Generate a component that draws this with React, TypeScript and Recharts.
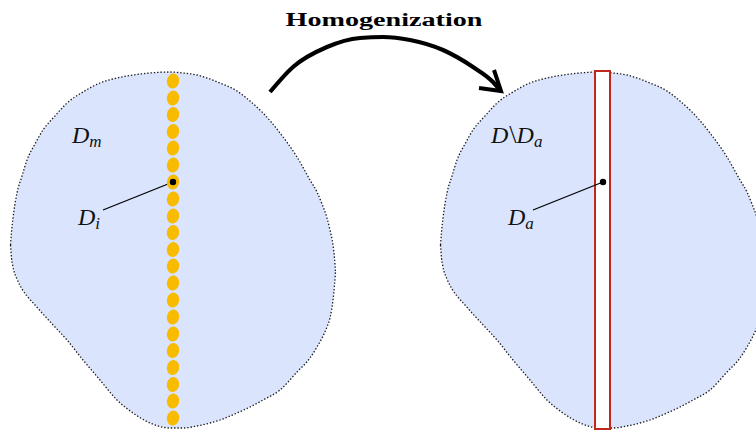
import React from 'react';
import { ComposedChart, XAxis, YAxis, Area, Line, Scatter, ReferenceArea } from 'recharts';

// Domain outline (pixel-like units, y grows downward)
const outlineX = [10.5, 11.5, 13, 17, 22, 27, 35, 43, 55, 67, 83, 100, 117, 133, 150, 170, 183, 197, 210, 220, 237, 250, 263, 280, 297, 310, 317, 322, 327, 330, 333, 334.5, 335.5];
const outlineTop = [245, 232, 218, 193, 176, 160, 144, 130, 116, 103, 92, 83, 78, 75, 73, 72, 73, 75, 79, 83, 91, 101, 113, 133, 157, 180, 192, 204, 218, 230, 245, 258, 272];
const outlineBottom = [245, 258, 267, 279, 289, 296, 305, 314, 327, 340, 360, 380, 400, 413, 423, 428, 428, 426, 423, 420, 413, 407, 400, 390, 372, 358, 347, 338, 327, 318, 300, 285, 272];

// inclusions along the vertical line (left domain)
const inclusionY = [81, 98, 114.5, 131.5, 148, 165, 182, 199, 216, 232.5, 249.5, 266, 283, 300, 317, 334, 350.5, 367.5, 384.5, 401, 418];
const inclusionX = 173;

// homogenized strip (right domain)
const stripX = [595, 610];
const stripY = [71, 429];

// the right picture is the same domain moved to the right
const rightShift = 430;

const markerDots = [
  { x: 173, y: 182 },
  { x: 603, y: 182 },
];
const leaderLeft = [
  { x: 173, y: 182 },
  { x: 103, y: 210 },
];
const leaderRight = [
  { x: 603, y: 182 },
  { x: 533, y: 210 },
];

const arrowBody = [
  { x: 270, y: 92 },
  { x: 293, y: 67 },
  { x: 327, y: 47 },
  { x: 360, y: 38 },
  { x: 383, y: 37 },
  { x: 410, y: 40 },
  { x: 443, y: 50 },
  { x: 473, y: 67 },
  { x: 493, y: 82 },
  { x: 500, y: 90 },
];
const arrowHead = [
  { x: 494, y: 70 },
  { x: 501, y: 91 },
  { x: 479, y: 88 },
];

const mathLabels = [
  { x: 72, y: 143, text: 'D', sub: 'm' },
  { x: 78, y: 225, text: 'D', sub: 'i' },
  { x: 491, y: 143, text: 'D\\D', sub: 'a' },
  { x: 508, y: 225, text: 'D', sub: 'a' },
];
const titles = [{ x: 384, y: 26, text: 'Homogenization', width: 197 }];

const outline = outlineX.map((x, i) => ({ x, top: outlineTop[i], bottom: outlineBottom[i] }));
const inclusions = inclusionY.map((y) => ({ x: inclusionX, y }));

const FILL = '#dae4fd';
const serif = '"Liberation Serif", "DejaVu Serif", serif';

const Bean = (props: any) => {
  const { cx, cy } = props;
  return <ellipse cx={cx} cy={cy} rx={6.2} ry={7.5} fill="#f9bb00" transform={`rotate(8 ${cx} ${cy})`} />;
};

const MathLabel = (props: any) => {
  const { cx, cy, payload } = props;
  const parts = String(payload.text).split('\\');
  return (
    <text x={cx} y={cy} fontFamily={serif} fontSize={24} fill="#111">
      {parts.map((p: string, i: number) => (
        <React.Fragment key={i}>
          {i > 0 && <tspan fontStyle="normal" fontSize={26} dx={1}>\</tspan>}
          <tspan fontStyle="italic">{p}</tspan>
        </React.Fragment>
      ))}
      <tspan fontStyle="italic" fontSize={17} dy={4}>{payload.sub}</tspan>
    </text>
  );
};

const Title = (props: any) => {
  const { cx, cy, payload } = props;
  return (
    <text x={cx} y={cy} textAnchor="middle" fontFamily={serif} fontWeight="bold" fontSize={18} fill="#000"
      textLength={payload.width} lengthAdjust="spacingAndGlyphs">
      {payload.text}
    </text>
  );
};

const Dot = (p: any) => <circle cx={p.cx} cy={p.cy} r={3.2} fill="#000" />;

export default function App() {
  return (
    <div style={{ position: 'absolute', left: 0, top: 0, width: 756, height: 432, background: '#fff' }}>
      <ComposedChart width={756} height={432} data={outline} margin={{ top: 0, right: 0, bottom: 0, left: 0 }}>
        <XAxis xAxisId="main" dataKey="x" type="number" domain={[0, 756]} allowDataOverflow hide />
        <XAxis xAxisId="shifted" dataKey="x" type="number" domain={[-rightShift, 756 - rightShift]} allowDataOverflow hide />
        <YAxis dataKey="y" type="number" domain={[0, 432]} reversed allowDataOverflow hide />

        <Area xAxisId="main" dataKey={(d: any) => [d.top, d.bottom]} type="monotone" fill={FILL} fillOpacity={1}
          stroke="#1a1a1a" strokeWidth={1.3} strokeDasharray="1.4 1.9" dot={false} activeDot={false} isAnimationActive={false} />
        <Area xAxisId="shifted" dataKey={(d: any) => [d.top, d.bottom]} type="monotone" fill={FILL} fillOpacity={1}
          stroke="#1a1a1a" strokeWidth={1.3} strokeDasharray="1.4 1.9" dot={false} activeDot={false} isAnimationActive={false} />

        <ReferenceArea xAxisId="main" x1={stripX[0]} x2={stripX[1]} y1={stripY[0]} y2={stripY[1]}
          fill="#fff" fillOpacity={1} stroke="#c0281c" strokeWidth={2} ifOverflow="visible" />

        <Scatter xAxisId="main" data={inclusions} shape={<Bean />} activeShape={<Bean />} isAnimationActive={false} />

        <Line xAxisId="main" data={leaderLeft} dataKey="y" type="linear" stroke="#000" strokeWidth={1.2}
          dot={false} activeDot={false} isAnimationActive={false} />
        <Line xAxisId="main" data={leaderRight} dataKey="y" type="linear" stroke="#000" strokeWidth={1.2}
          dot={false} activeDot={false} isAnimationActive={false} />
        <Scatter xAxisId="main" data={markerDots} shape={<Dot />} activeShape={<Dot />} isAnimationActive={false} />

        <Line xAxisId="main" data={arrowBody} dataKey="y" type="monotone" stroke="#000" strokeWidth={4.2} strokeLinecap="butt"
          dot={false} activeDot={false} isAnimationActive={false} />
        <Line xAxisId="main" data={arrowHead} dataKey="y" type="linear" stroke="#000" strokeWidth={4} strokeLinejoin="miter"
          dot={false} activeDot={false} isAnimationActive={false} />

        <Scatter xAxisId="main" data={mathLabels} shape={<MathLabel />} activeShape={<MathLabel />} isAnimationActive={false} />
        <Scatter xAxisId="main" data={titles} shape={<Title />} activeShape={<Title />} isAnimationActive={false} />
      </ComposedChart>
    </div>
  );
}
